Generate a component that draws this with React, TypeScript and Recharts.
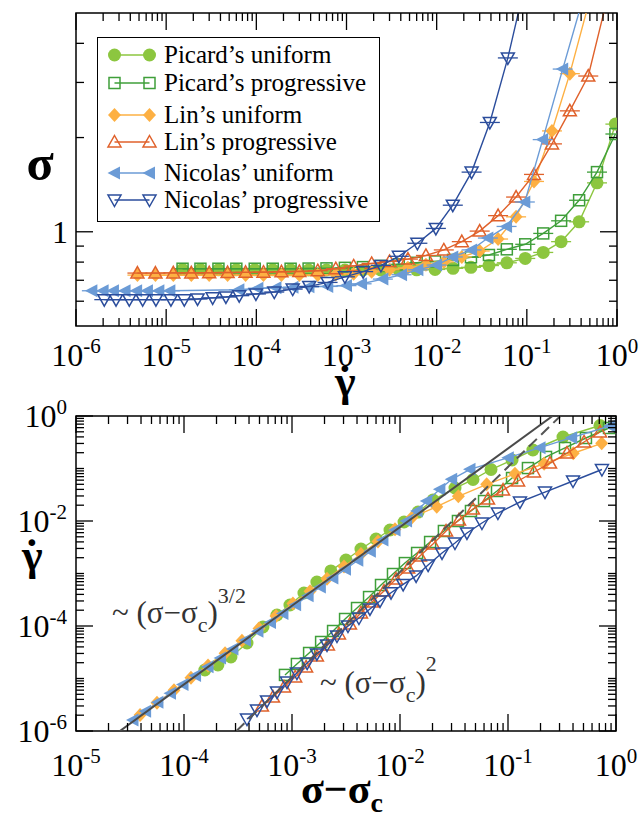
import React from 'react';
import { ScatterChart, Scatter, XAxis, YAxis, ReferenceArea, Legend } from 'recharts';

const SERIF = '"Liberation Serif", "Times New Roman", Times, serif';

// ---- top panel: sigma vs shear rate ----
const picardTopX = [1.52e-5, 2.4e-5, 3.8e-5, 6.0e-5, 9.6e-5, 1.52e-4, 2.4e-4, 3.8e-4, 6.0e-4, 9.6e-4, 1.52e-3, 2.4e-3, 3.8e-3, 6.0e-3, 9.6e-3, 0.0152, 0.024, 0.038, 0.06, 0.096, 0.152, 0.24, 0.38, 0.6, 0.96];
const picardUniTopS = [0.757, 0.757, 0.756, 0.756, 0.756, 0.756, 0.756, 0.755, 0.755, 0.755, 0.755, 0.755, 0.756, 0.756, 0.758, 0.764, 0.77, 0.78, 0.796, 0.822, 0.859, 0.93, 1.076, 1.433, 2.208];
const picardProgTopS = [0.762, 0.762, 0.762, 0.762, 0.762, 0.762, 0.762, 0.763, 0.764, 0.767, 0.771, 0.778, 0.787, 0.796, 0.804, 0.813, 0.829, 0.843, 0.879, 0.912, 0.988, 1.084, 1.261, 1.551, 2.053];
const linUniTopX = [4.8e-6, 7.6e-6, 1.2e-5, 1.9e-5, 3.0e-5, 4.8e-5, 7.6e-5, 1.2e-4, 1.9e-4, 3.0e-4, 4.8e-4, 7.6e-4, 1.2e-3, 1.9e-3, 3.0e-3, 4.8e-3, 7.6e-3, 0.012, 0.019, 0.03, 0.048, 0.076, 0.12, 0.19, 0.3, 0.48];
const linUniTopS = [0.727, 0.727, 0.727, 0.727, 0.727, 0.727, 0.727, 0.727, 0.727, 0.727, 0.728, 0.73, 0.735, 0.745, 0.756, 0.767, 0.784, 0.801, 0.831, 0.868, 0.948, 1.116, 1.448, 2.1, 3.2, 5.3];
const linProgTopX = [4.8e-6, 7.6e-6, 1.2e-5, 1.9e-5, 3.0e-5, 4.8e-5, 7.6e-5, 1.2e-4, 1.9e-4, 3.0e-4, 4.8e-4, 7.6e-4, 1.2e-3, 1.9e-3, 3.0e-3, 4.8e-3, 7.6e-3, 0.012, 0.019, 0.03, 0.048, 0.076, 0.12, 0.19, 0.3, 0.48, 0.76];
const linProgTopS = [0.738, 0.738, 0.739, 0.739, 0.74, 0.741, 0.742, 0.743, 0.745, 0.747, 0.751, 0.762, 0.778, 0.792, 0.804, 0.818, 0.84, 0.875, 0.93, 1.005, 1.126, 1.291, 1.525, 1.909, 2.434, 3.145, 5.4];
const nicUniTopX = [1.5e-6, 2.0e-6, 2.6e-6, 3.5e-6, 4.7e-6, 6.2e-6, 8.3e-6, 1.1e-5, 6.4e-5, 1.04e-4, 1.65e-4, 2.55e-4, 3.83e-4, 6.2e-4, 1.0e-3, 1.47e-3, 2.53e-3, 4.08e-3, 6.19e-3, 9.98e-3, 0.0151, 0.0244, 0.037, 0.0596, 0.095, 0.15, 0.25, 0.4];
const nicUniTopS = [0.648, 0.648, 0.648, 0.648, 0.648, 0.648, 0.648, 0.648, 0.653, 0.66, 0.663, 0.665, 0.667, 0.669, 0.673, 0.682, 0.706, 0.729, 0.756, 0.783, 0.831, 0.875, 0.955, 1.04, 1.245, 1.97, 3.31, 5.3];
const nicProgTopX = [2.06e-6, 2.78e-6, 3.9e-6, 5.49e-6, 7.7e-6, 1.13e-5, 1.59e-5, 2.23e-5, 3.28e-5, 4.6e-5, 6.46e-5, 9.9e-5, 1.58e-4, 2.53e-4, 3.86e-4, 6.17e-4, 9.6e-4, 1.53e-3, 2.41e-3, 3.81e-3, 6.11e-3, 9.8e-3, 0.0151, 0.0244, 0.0389, 0.0616, 0.098];
const nicProgTopS = [0.607, 0.607, 0.607, 0.607, 0.607, 0.607, 0.607, 0.61, 0.615, 0.619, 0.625, 0.633, 0.642, 0.656, 0.669, 0.689, 0.718, 0.746, 0.781, 0.835, 0.919, 1.025, 1.216, 1.551, 2.235, 3.593, 6.4];

// ---- bottom panel: shear rate vs sigma - sigma_c ----
const picardUniBotX = [1.56e-4, 2.06e-4, 2.72e-4, 3.83e-4, 5.38e-4, 7.26e-4, 9.57e-4, 1.29e-3, 1.7e-3, 2.29e-3, 3.16e-3, 4.35e-3, 6.0e-3, 8.08e-3, 1.09e-2, 1.47e-2, 2.02e-2, 3.23e-2, 4.74e-2, 6.96e-2, 0.109, 0.17, 0.323, 0.711];
const picardUniBotY = [1.45e-5, 1.81e-5, 2.57e-5, 4.74e-5, 9.57e-5, 1.62e-4, 2.51e-4, 4.25e-4, 6.89e-4, 1.12e-3, 1.81e-3, 2.93e-3, 4.54e-3, 6.74e-3, 9.57e-3, 1.48e-2, 2.51e-2, 4.25e-2, 6.17e-2, 9.57e-2, 0.145, 0.225, 0.398, 0.659];
const picardProgBotX = [8.61e-4, 1.11e-3, 1.44e-3, 1.86e-3, 2.4e-3, 3.1e-3, 4.0e-3, 5.17e-3, 6.67e-3, 8.61e-3, 1.11e-2, 1.44e-2, 1.9e-2, 2.55e-2, 3.44e-2, 4.54e-2, 6.0e-2, 7.91e-2, 0.109, 0.153, 0.225, 0.337, 0.527, 0.861];
const picardProgBotY = [1.17e-5, 1.89e-5, 3.06e-5, 4.96e-5, 8.03e-5, 1.36e-4, 2.2e-4, 3.56e-4, 6.04e-4, 9.78e-4, 1.58e-3, 2.46e-3, 3.98e-3, 6.45e-3, 1.0e-2, 1.55e-2, 2.4e-2, 3.73e-2, 6.59e-2, 0.102, 0.166, 0.246, 0.381, 0.591];
const linUniBotX = [3.92e-5, 5.62e-5, 8.08e-5, 1.16e-4, 1.67e-4, 2.4e-4, 3.44e-4, 4.95e-4, 7.11e-4, 1.02e-3, 1.47e-3, 2.11e-3, 3.03e-3, 4.35e-3, 6.25e-3, 8.99e-3, 1.29e-2, 2.19e-2, 3.47e-2, 6.35e-2, 0.116, 0.216, 0.402, 0.737];
const linUniBotY = [2.01e-6, 3.46e-6, 5.97e-6, 1.03e-5, 1.77e-5, 3.03e-5, 5.23e-5, 9.0e-5, 1.55e-4, 2.67e-4, 4.6e-4, 7.92e-4, 1.36e-3, 2.35e-3, 4.05e-3, 6.98e-3, 1.17e-2, 1.87e-2, 2.95e-2, 5.0e-2, 7.92e-2, 0.123, 0.195, 0.302];
const linProgBotX = [5.27e-4, 6.67e-4, 8.43e-4, 1.07e-3, 1.35e-3, 1.7e-3, 2.15e-3, 2.72e-3, 3.44e-3, 4.35e-3, 5.5e-3, 7.11e-3, 9.18e-3, 1.19e-2, 1.53e-2, 2.02e-2, 2.67e-2, 3.52e-2, 4.74e-2, 6.53e-2, 9.0e-2, 0.124, 0.174, 0.245, 0.352, 0.506, 0.711];
const linProgBotY = [2.99e-6, 4.44e-6, 6.89e-6, 1.07e-5, 1.66e-5, 2.69e-5, 4.35e-5, 7.05e-5, 1.09e-4, 1.77e-4, 2.86e-4, 4.64e-4, 7.85e-4, 1.27e-3, 2.15e-3, 3.65e-3, 6.45e-3, 1.05e-2, 1.69e-2, 2.62e-2, 3.89e-2, 5.78e-2, 8.58e-2, 0.127, 0.197, 0.32, 0.496];
const nicUniBotX = [3.37e-5, 4.41e-5, 5.74e-5, 7.5e-5, 9.79e-5, 1.28e-4, 1.67e-4, 2.18e-4, 2.84e-4, 3.71e-4, 4.84e-4, 6.32e-4, 8.24e-4, 1.08e-3, 1.41e-3, 1.83e-3, 2.39e-3, 3.13e-3, 4.07e-3, 5.32e-3, 6.95e-3, 9.0e-3, 1.15e-2, 1.44e-2, 1.77e-2, 2.34e-2, 3.01e-2, 4.45e-2, 0.1007, 0.198, 0.389, 0.879];
const nicUniBotY = [1.62e-6, 2.39e-6, 3.53e-6, 5.21e-6, 7.69e-6, 1.14e-5, 1.67e-5, 2.47e-5, 3.65e-5, 5.38e-5, 7.94e-5, 1.17e-4, 1.73e-4, 2.55e-4, 3.77e-4, 5.56e-4, 8.2e-4, 1.21e-3, 1.79e-3, 2.64e-3, 4.35e-3, 6.74e-3, 1.0e-2, 1.55e-2, 2.4e-2, 4.02e-2, 6.22e-2, 9.66e-2, 0.161, 0.249, 0.386, 0.645];
const nicProgBotX = [3.83e-4, 4.74e-4, 5.87e-4, 7.26e-4, 8.99e-4, 1.11e-3, 1.38e-3, 1.7e-3, 2.11e-3, 2.61e-3, 3.3e-3, 4.17e-3, 5.27e-3, 6.53e-3, 8.26e-3, 1.07e-2, 1.41e-2, 1.82e-2, 2.45e-2, 3.23e-2, 4.17e-2, 5.74e-2, 8.07e-2, 0.129, 0.22, 0.4, 0.741];
const nicProgBotY = [1.69e-6, 2.51e-6, 3.73e-6, 5.53e-6, 8.57e-6, 1.27e-5, 1.97e-5, 2.93e-5, 4.35e-5, 6.45e-5, 1.0e-4, 1.42e-4, 2.11e-4, 3.0e-4, 4.3e-4, 6.2e-4, 9.0e-4, 1.45e-3, 2.46e-3, 3.81e-3, 5.91e-3, 9.16e-3, 1.42e-2, 2.3e-2, 3.56e-2, 5.78e-2, 9.57e-2];

// power-law guides: ~ (s - sc)^(3/2) solid, ~ (s - sc)^2 dashed
const guide32X = [2.55e-5, 0.2587];
const guide32Y = [1e-6, 1];
const guide2X = [3.06e-4, 0.3057];
const guide2Y = [1e-6, 1];

// ticks
const topXMajors = [1e-6, 1e-5, 1e-4, 1e-3, 1e-2, 1e-1, 1];
const topXLabels = ['10^-6', '10^-5', '10^-4', '10^-3', '10^-2', '10^-1', '10^0'];
const topYTicks = [0.6, 0.7, 0.8, 0.9, 1, 2, 3, 4];
const topYMajors = [1];
const topYLabels = ['1'];
const botXMajors = [1e-5, 1e-4, 1e-3, 1e-2, 1e-1, 1];
const botXLabels = ['10^-5', '10^-4', '10^-3', '10^-2', '10^-1', '10^0'];
const botYDecades = [1e-6, 1e-5, 1e-4, 1e-3, 1e-2, 1e-1, 1];
const botYMajors = [1e-6, 1e-4, 1e-2, 1];
const botYLabels = ['10^-6', '10^-4', '10^-2', '10^0'];
const minorSteps = [2, 3, 4, 5, 6, 7, 8, 9];

const withMinors = (decades: number[]) => {
  const out: number[] = [];
  decades.forEach((d, i) => {
    out.push(d);
    if (i < decades.length - 1) minorSteps.forEach((k) => out.push(k * d));
  });
  return out;
};

const zip = (xs: number[], ys: number[]) => xs.map((x, i) => ({ x, y: ys[i] }));

type Kind = 'circle' | 'square' | 'diamond' | 'triUp' | 'triLeft' | 'triDown';

const SERIES: { name: string; color: string; kind: Kind; filled: boolean }[] = [
  { name: 'Picard’s uniform', color: '#8cc63f', kind: 'circle', filled: true },
  { name: 'Picard’s progressive', color: '#3f9f3a', kind: 'square', filled: false },
  { name: 'Lin’s uniform', color: '#fdb043', kind: 'diamond', filled: true },
  { name: 'Lin’s progressive', color: '#e0612b', kind: 'triUp', filled: false },
  { name: 'Nicolas’ uniform', color: '#6b9bd6', kind: 'triLeft', filled: true },
  { name: 'Nicolas’ progressive', color: '#2b4d9c', kind: 'triDown', filled: false },
];

const topData = [
  zip(picardTopX, picardUniTopS),
  zip(picardTopX, picardProgTopS),
  zip(linUniTopX, linUniTopS),
  zip(linProgTopX, linProgTopS),
  zip(nicUniTopX, nicUniTopS),
  zip(nicProgTopX, nicProgTopS),
];
const botData = [
  zip(picardUniBotX, picardUniBotY),
  zip(picardProgBotX, picardProgBotY),
  zip(linUniBotX, linUniBotY),
  zip(linProgBotX, linProgBotY),
  zip(nicUniBotX, nicUniBotY),
  zip(nicProgBotX, nicProgBotY),
];

function Marker({ kind, cx, cy, color, filled, err = 0 }: { kind: Kind; cx: number; cy: number; color: string; filled: boolean; err?: number }) {
  const fill = filled ? color : 'none';
  const sw = filled ? 0 : 1.5;
  let el: React.ReactNode = null;
  if (kind === 'circle') el = <circle cx={cx} cy={cy} r={6.5} fill={fill} stroke={color} strokeWidth={sw} />;
  if (kind === 'square') el = <rect x={cx - 5.5} y={cy - 5.5} width={11} height={11} fill={fill} stroke={color} strokeWidth={sw} />;
  if (kind === 'diamond') el = <polygon points={`${cx},${cy - 7} ${cx + 6.5},${cy} ${cx},${cy + 7} ${cx - 6.5},${cy}`} fill={fill} stroke={color} strokeWidth={sw} />;
  if (kind === 'triUp') el = <polygon points={`${cx},${cy - 6.5} ${cx + 6.5},${cy + 5} ${cx - 6.5},${cy + 5}`} fill={fill} stroke={color} strokeWidth={sw} />;
  if (kind === 'triDown') el = <polygon points={`${cx},${cy + 6.5} ${cx + 6.5},${cy - 5} ${cx - 6.5},${cy - 5}`} fill={fill} stroke={color} strokeWidth={sw} />;
  if (kind === 'triLeft') el = <polygon points={`${cx - 7},${cy} ${cx + 5.5},${cy - 6.5} ${cx + 5.5},${cy + 6.5}`} fill={fill} stroke={color} strokeWidth={sw} />;
  return (
    <g>
      {err > 0 && <line x1={cx - err} x2={cx + err} y1={cy} y2={cy} stroke={color} strokeWidth={1.3} />}
      {el}
    </g>
  );
}

function tickLabel(label: string, x: number, y: number, anchor: 'middle' | 'end') {
  const [base, exp] = label.split('^');
  return (
    <text x={x} y={y} textAnchor={anchor} fontFamily={SERIF} fontSize={32} fill="#000">
      {base}
      {exp !== undefined && (
        <tspan dy={-13} fontSize={21}>
          {exp}
        </tspan>
      )}
    </text>
  );
}

const majorIndex = (v: number, majors: number[]) => majors.findIndex((m) => Math.abs(v / m - 1) < 1e-6);

function LogXTick(props: any) {
  const { x, y, payload, plotH, majors, labels, labelDy } = props;
  const i = majorIndex(payload.value, majors);
  const len = i >= 0 ? 17 : 8;
  return (
    <g>
      <line x1={x} x2={x} y1={y} y2={y - len} stroke="#000" strokeWidth={1.3} />
      <line x1={x} x2={x} y1={y - plotH} y2={y - plotH + len} stroke="#000" strokeWidth={1.3} />
      {i >= 0 && labels[i] && tickLabel(labels[i], x, y + labelDy, 'middle')}
    </g>
  );
}

function LogYTick(props: any) {
  const { x, y, payload, plotW, majors, labels, labelDx, labelDy } = props;
  const i = majorIndex(payload.value, majors);
  const len = i >= 0 ? 17 : 8;
  return (
    <g>
      <line x1={x} x2={x + len} y1={y} y2={y} stroke="#000" strokeWidth={1.3} />
      <line x1={x + plotW} x2={x + plotW - len} y1={y} y2={y} stroke="#000" strokeWidth={1.3} />
      {i >= 0 && labels[i] && tickLabel(labels[i], x - labelDx, y + labelDy, 'end')}
    </g>
  );
}

const LEGEND_ROWS = [16.5, 44.5, 76.5, 103.5, 134.5, 161.5];

function LegendBox() {
  return (
    <div style={{ width: 283, height: 185, border: '1.5px solid #000', boxSizing: 'border-box', background: '#fff', position: 'relative', fontFamily: SERIF }}>
      {SERIES.map((s, i) => (
        <div key={s.name} style={{ position: 'absolute', left: 0, top: LEGEND_ROWS[i] - 14, height: 28, display: 'flex', alignItems: 'center', whiteSpace: 'nowrap' }}>
          <svg width={66} height={28}>
            <line x1={16.5} x2={51.5} y1={14} y2={14} stroke={s.color} strokeWidth={1.4} />
            <Marker kind={s.kind} cx={16.5} cy={14} color={s.color} filled={s.filled} />
            <Marker kind={s.kind} cx={51.5} cy={14} color={s.color} filled={s.filled} />
          </svg>
          <span style={{ fontSize: 25, lineHeight: '28px', color: '#000' }}>{s.name}</span>
        </div>
      ))}
    </div>
  );
}

const TOP_W = 541;
const TOP_H = 313;
const BOT_W = 540;
const BOT_H = 315;

// gamma-dot title: one text, the dot-above accent pulled back over the gamma
function GammaDot({ x, y }: { x: number; y: number }) {
  return (
    <text x={x - 11} y={y} fontFamily={SERIF} fontSize={44} fontWeight="bold">
      γ<tspan dx={-18}>˙</tspan>
    </text>
  );
}

export default function App() {
  return (
    <div style={{ position: 'absolute', left: 0, top: 0, width: 643, height: 820, background: '#fff' }}>
      <div style={{ position: 'absolute', left: 0, top: 0 }}>
        <ScatterChart width={643} height={400} margin={{ top: 13, right: 26, bottom: 34, left: 16 }}>
          <XAxis
            type="number"
            dataKey="x"
            scale="log"
            domain={[1e-6, 1]}
            allowDataOverflow
            ticks={withMinors(topXMajors)}
            interval={0}
            height={40}
            tickSize={0}
            tickMargin={0}
            axisLine={false}
            tickLine={false}
            tick={<LogXTick plotH={TOP_H} majors={topXMajors} labels={topXLabels} labelDy={40} />}
          />
          <YAxis
            type="number"
            dataKey="y"
            scale="log"
            domain={[0.5, 5]}
            allowDataOverflow
            ticks={topYTicks}
            interval={0}
            width={60}
            tickSize={0}
            tickMargin={0}
            axisLine={false}
            tickLine={false}
            tick={<LogYTick plotW={TOP_W} majors={topYMajors} labels={topYLabels} labelDx={8} labelDy={11} />}
          />
          <ReferenceArea x1={1e-6} x2={1} y1={0.5} y2={5} fill="none" stroke="#000" strokeWidth={1.5} />
          {SERIES.map((s, i) => (
            <Scatter
              key={s.name}
              name={s.name}
              data={topData[i]}
              isAnimationActive={false}
              line={{ stroke: s.color, strokeWidth: 1.4 }}
              lineType="joint"
              shape={(p: any) => <Marker kind={s.kind} cx={p.cx} cy={p.cy} color={s.color} filled={s.filled} err={10} />}
            />
          ))}
          <Legend
            layout="vertical"
            align="center"
            verticalAlign="middle"
            content={() => <LegendBox />}
            wrapperStyle={{ left: 97, top: 37, width: 283, height: 185 }}
          />
        </ScatterChart>
      </div>

      <div style={{ position: 'absolute', left: 0, top: 380 }}>
        <ScatterChart width={643} height={430} margin={{ top: 36, right: 27, bottom: 39, left: 16 }}>
          <XAxis
            type="number"
            dataKey="x"
            scale="log"
            domain={[1e-5, 1]}
            allowDataOverflow
            ticks={withMinors(botXMajors)}
            interval={0}
            height={40}
            tickSize={0}
            tickMargin={0}
            axisLine={false}
            tickLine={false}
            tick={<LogXTick plotH={BOT_H} majors={botXMajors} labels={botXLabels} labelDy={45} />}
          />
          <YAxis
            type="number"
            dataKey="y"
            scale="log"
            domain={[1e-6, 1]}
            allowDataOverflow
            ticks={withMinors(botYDecades)}
            interval={0}
            width={60}
            tickSize={0}
            tickMargin={0}
            axisLine={false}
            tickLine={false}
            tick={<LogYTick plotW={BOT_W} majors={botYMajors} labels={botYLabels} labelDx={9} labelDy={11} />}
          />
          <ReferenceArea x1={1e-5} x2={1} y1={1e-6} y2={1} fill="none" stroke="#000" strokeWidth={1.5} />
          {SERIES.map((s, i) => (
            <Scatter
              key={s.name}
              name={s.name}
              data={botData[i]}
              isAnimationActive={false}
              line={{ stroke: s.color, strokeWidth: 1.4 }}
              lineType="joint"
              shape={(p: any) => <Marker kind={s.kind} cx={p.cx} cy={p.cy} color={s.color} filled={s.filled} />}
            />
          ))}
          <Scatter
            name="guide-3/2"
            data={zip(guide32X, guide32Y)}
            isAnimationActive={false}
            line={{ stroke: '#4a4a4a', strokeWidth: 2 }}
            lineType="joint"
            shape={() => <g />}
          />
          <Scatter
            name="guide-2"
            data={zip(guide2X, guide2Y)}
            isAnimationActive={false}
            line={{ stroke: '#555', strokeWidth: 2, strokeDasharray: '11 6' }}
            lineType="joint"
            shape={() => <g />}
          />
        </ScatterChart>
      </div>

      <svg width={643} height={820} style={{ position: 'absolute', left: 0, top: 0, pointerEvents: 'none' }} fontFamily={SERIF}>
        <text x={40} y={180} fontSize={50} fontWeight="bold" textAnchor="middle">σ</text>
        <GammaDot x={346} y={396} />
        <GammaDot x={33} y={570} />
        <text x={342} y={803} fontSize={42} fontWeight="bold" textAnchor="middle">
          σ−σ<tspan dy={9} fontSize={28}>c</tspan>
        </text>
        <text x={112} y={623} fontSize={31} fill="#333">
          ~ (σ−σ<tspan dy={9} fontSize={22}>c</tspan>
          <tspan dy={-9}>)</tspan>
          <tspan dy={-20} fontSize={22}>3/2</tspan>
        </text>
        <text x={320} y={693} fontSize={31} fill="#333">
          ~ (σ−σ<tspan dy={9} fontSize={22}>c</tspan>
          <tspan dy={-9}>)</tspan>
          <tspan dy={-22} fontSize={22}>2</tspan>
        </text>
      </svg>
    </div>
  );
}
